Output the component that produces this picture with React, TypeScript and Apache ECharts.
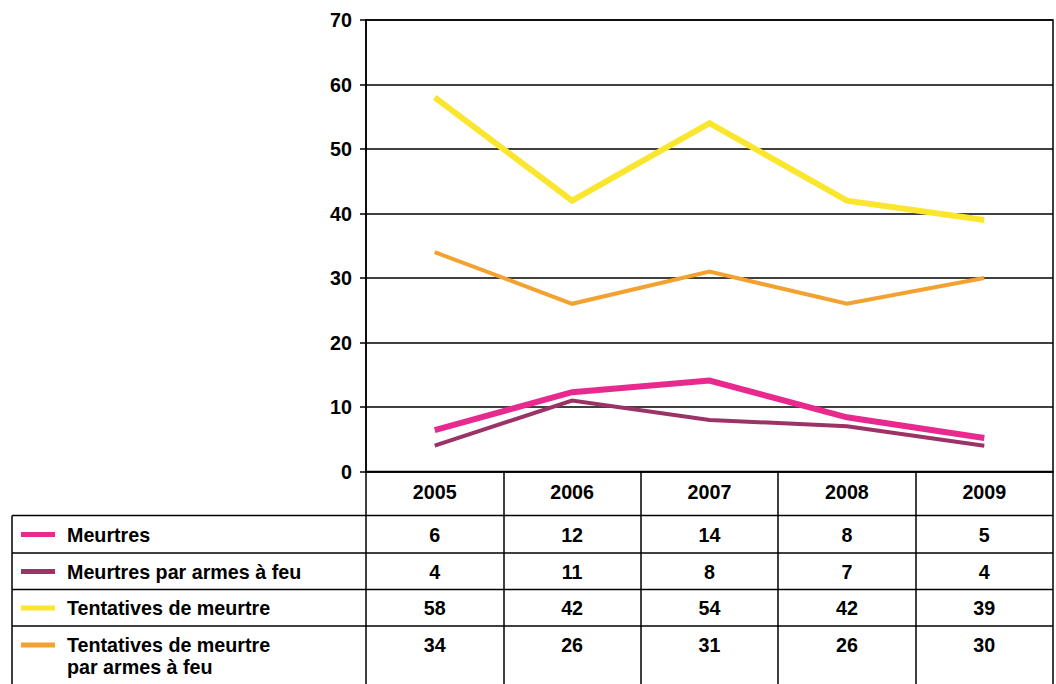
import React, { useEffect, useRef } from "react";
import * as echarts from "echarts";

const years = ["2005", "2006", "2007", "2008", "2009"];
const seriesNames = [
  "Meurtres",
  "Meurtres par armes à feu",
  "Tentatives de meurtre",
  "Tentatives de meurtre par armes à feu",
];
// values as plotted on the chart
const meurtres = [6.4, 12.3, 14.1, 8.4, 5.2];
const meurtresArmes = [4, 11, 8, 7, 4];
const tentatives = [58, 42, 54, 42, 39];
const tentativesArmes = [34, 26, 31, 26, 30];
// values as printed in the table
const tableMeurtres = [6, 12, 14, 8, 5];
const tableMeurtresArmes = [4, 11, 8, 7, 4];
const tableTentatives = [58, 42, 54, 42, 39];
const tableTentativesArmes = [34, 26, 31, 26, 30];
const yTicks = [0, 10, 20, 30, 40, 50, 60, 70];

const colors = ["#E8298D", "#9C3367", "#FBE62F", "#F3A230"];
const widths = [6, 4, 6, 4];
const FONT = "'Liberation Sans', Arial, Helvetica, sans-serif";
const FS = 19.7;

export default function App() {
  const ref = useRef<HTMLDivElement>(null);
  useEffect(() => {
    if (!ref.current) return;
    const chart = echarts.init(ref.current, undefined, { renderer: "svg" });
    const gridLeft = 366;
    const gridRight = 1053;
    const axisY = 471.5;
    const tables = [tableMeurtres, tableMeurtresArmes, tableTentatives, tableTentativesArmes];
    const rowCenters = [534.5, 571.5, 608, 645];
    const rowLines = [515.5, 553, 589.5, 626];
    const lineData = [meurtres, meurtresArmes, tentatives, tentativesArmes];

    const textStyle = { fontFamily: FONT, fontSize: FS, fontWeight: "bold" as const, color: "#000" };

    const extraAxes = tables.map((vals, k) => ({
      type: "category",
      data: years,
      position: "bottom",
      gridIndex: 0,
      axisLine: { show: false },
      axisTick: { show: false },
      splitLine: { show: false },
      axisLabel: {
        ...textStyle,
        interval: 0,
        verticalAlign: "middle",
        margin: rowCenters[k] - axisY,
        formatter: (_v: string, i: number) => String(vals[i]),
      },
    }));

    const legends = seriesNames.map((name, k) => {
      const twoLine = k === 3;
      return {
        data: [name],
        left: 21,
        top: twoLine ? rowCenters[k] - 33 : rowCenters[k] - 11,
        orient: "vertical",
        padding: 0,
        itemWidth: 34,
        itemHeight: 5,
        itemGap: 12,
        icon: "rect",
        selectedMode: false,
        formatter: twoLine ? () => " \nTentatives de meurtre\npar armes à feu" : undefined,
        textStyle: {
          ...textStyle,
          lineHeight: 22,
          padding: [0, 0, 0, 7],
        },
      };
    });

    chart.setOption({
      animation: false,
      grid: {
        left: gridLeft,
        right: 1056 - gridRight,
        top: 20,
        bottom: 684 - axisY,
        show: true,
        borderColor: "#000",
        borderWidth: 1.5,
        backgroundColor: "transparent",
      },
      legend: legends,
      xAxis: [
        {
          type: "category",
          data: years,
          boundaryGap: true,
          axisLine: { show: true, lineStyle: { color: "#000", width: 1.5 } },
          axisTick: {
            show: true,
            interval: 0,
            length: 684 - axisY,
            lineStyle: { color: "#000", width: 1.5 },
          },
          axisLabel: {
            ...textStyle,
            interval: 0,
            verticalAlign: "middle",
            margin: 492 - axisY,
          },
          splitLine: { show: false },
        },
        ...extraAxes,
      ],
      yAxis: {
        type: "value",
        min: yTicks[0],
        max: yTicks[yTicks.length - 1],
        interval: 10,
        axisLine: { show: true, lineStyle: { color: "#000", width: 1.5 } },
        axisTick: { show: true, length: 6, lineStyle: { color: "#000", width: 1.5 } },
        axisLabel: { ...textStyle, margin: 14 },
        splitLine: { show: true, lineStyle: { color: "#000", width: 1.5 } },
      },
      graphic: [
        ...rowLines.map((y) => ({
          type: "line",
          shape: { x1: 12, y1: y, x2: gridRight, y2: y },
          style: { stroke: "#000", lineWidth: 1.5 },
          silent: true,
        })),
        {
          type: "line",
          shape: { x1: 12, y1: rowLines[0], x2: 12, y2: 684 },
          style: { stroke: "#000", lineWidth: 1.5 },
          silent: true,
        },
      ],
      series: seriesNames.map((name, k) => ({
        name,
        type: "line",
        xAxisIndex: 0,
        data: lineData[k],
        symbol: "none",
        color: colors[k],
        lineStyle: { color: colors[k], width: widths[k], join: "miter" },
        z: 3 + (k === 0 ? 1 : 0),
      })),
    });
    return () => chart.dispose();
  }, []);
  return (
    <div
      ref={ref}
      style={{ position: "fixed", left: 0, top: 0, width: 1056, height: 684, background: "#fff" }}
    />
  );
}
